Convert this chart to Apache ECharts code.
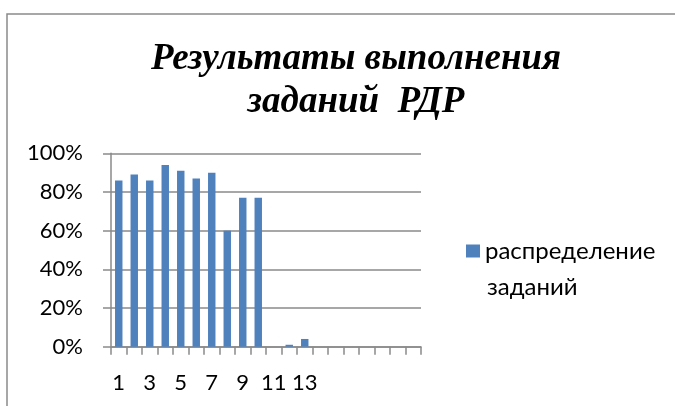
<!DOCTYPE html>
<html>
<head>
<meta charset="utf-8">
<script src="https://cdn.jsdelivr.net/npm/echarts@6/dist/echarts.min.js"></script>
<style>html,body{margin:0;padding:0;background:#fff}#c{width:675px;height:406px}</style>
</head>
<body>
<div id="c"></div>
<script>
const titleText = "Результаты выполнения\nзаданий  РДР";
const seriesName = "распределение заданий";
const legendLines = ["распределение", "заданий"];
const categories = ["1","2","3","4","5","6","7","8","9","10","11","12","13","14","","","","","",""];
const values = [86, 89, 86, 94, 91, 87, 90, 60, 77, 77, 0, 1, 4, 0, null, null, null, null, null, null];
const yTicks = [0, 20, 40, 60, 80, 100];

const chart = echarts.init(document.getElementById('c'));
const labelFont = '"Lato", "Open Sans", sans-serif';
chart.setOption({
  animation: false,
  backgroundColor: '#fff',
  title: {
    text: titleText,
    left: 351, top: 33, textAlign: 'center',
    textStyle: {
      fontFamily: '"Liberation Serif", serif',
      fontStyle: 'italic', fontWeight: 'bold',
      fontSize: 37, lineHeight: 43, color: '#000'
    }
  },
  graphic: [{
    type: 'rect', shape: {x: 7, y: 14, width: 800, height: 600},
    style: {fill: 'none', stroke: '#8a8a8a', lineWidth: 1.5}, silent: true
  }, {
    type: 'text', left: 487, top: 275,
    style: {text: legendLines[1], fontFamily: labelFont, fontSize: 24, fill: '#000'}
  }],
  legend: {
    left: 466, top: 239, padding: 0,
    itemWidth: 14, itemHeight: 13, itemGap: 0,
    icon: 'rect',
    formatter: () => legendLines[0],
    textStyle: {fontFamily: labelFont, fontSize: 24, color: '#000'},
    data: [seriesName]
  },
  grid: {left: 111, right: 254, top: 153.3, bottom: 59.3, containLabel: false},
  xAxis: {
    type: 'category', data: categories, boundaryGap: true,
    axisLine: {lineStyle: {color: '#8a8a8a', width: 1.5}},
    axisTick: {show: true, interval: 0, length: 8, lineStyle: {color: '#8a8a8a', width: 1.5}},
    axisLabel: {interval: 1, margin: 25, fontFamily: labelFont, fontSize: 22, color: '#000'}
  },
  yAxis: {
    type: 'value', min: 0, max: 100, interval: 20,
    axisLine: {show: true, lineStyle: {color: '#8a8a8a', width: 1.5}},
    axisTick: {show: true, length: 8, lineStyle: {color: '#8a8a8a', width: 1.5}},
    splitLine: {lineStyle: {color: '#8a8a8a', width: 1.5}},
    axisLabel: {margin: 28, fontFamily: labelFont, fontSize: 22, color: '#000', formatter: v => yTicks.includes(v) ? v + '%' : ''}
  },
  series: [{
    name: seriesName, type: 'bar', data: values, barWidth: '48%',
    itemStyle: {color: '#4F81BD'}
  }]
});
</script>
</body>
</html>
